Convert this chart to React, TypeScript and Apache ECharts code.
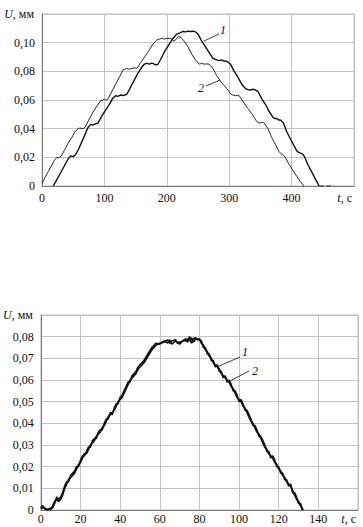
import React, { useEffect, useRef } from "react";
import * as echarts from "echarts";

// Top chart
const topCurve1: [number, number][] = [
  [18,0],[22,0.003],[27,0.007],[32,0.011],[37,0.015],[42,0.019],[46,0.021],[50,0.0205],[54,0.022],[59,0.026],
  [64,0.031],[69,0.036],[74,0.041],[78,0.043],[81,0.0425],[84,0.043],[87,0.0435],[90,0.044],[96,0.049],[102,0.053],[108,0.057],[113,0.061],
  [118,0.063],[121,0.0625],[124,0.063],[127,0.0635],[130,0.063],[136,0.064],[142,0.069],[148,0.074],[154,0.079],[160,0.083],[164,0.085],[168,0.0855],[172,0.085],
  [176,0.0858],[180,0.085],[183,0.0845],[186,0.085],[192,0.090],[198,0.095],[204,0.099],[210,0.103],[216,0.106],[222,0.107],[226,0.1078],[230,0.1075],[234,0.108],[238,0.1078],
  [242,0.108],[246,0.1075],[250,0.106],[256,0.101],[262,0.097],[268,0.093],[274,0.089],[280,0.088],[284,0.0875],[288,0.088],[292,0.0872],[296,0.087],[302,0.085],
  [308,0.080],[314,0.076],[320,0.071],[326,0.068],[330,0.0672],[334,0.067],[338,0.0675],[342,0.067],[346,0.066],[352,0.061],[358,0.057],[364,0.052],
  [370,0.048],[373,0.047],[376,0.0472],[379,0.046],[382,0.046],[387,0.044],[392,0.038],[398,0.033],[404,0.028],[409,0.024],[412,0.0235],[414,0.023],[417,0.0225],[420,0.021],
  [426,0.015],[432,0.010],[438,0.005],[444,0]
];
const topCurve1Tail: [number, number][] = [[444,0],[468,0]];
const topCurve2: [number, number][] = [
  [0,0.002],[5,0.006],[10,0.010],[15,0.014],[20,0.018],[24,0.020],[26,0.0195],[28,0.020],[31,0.021],[36,0.025],[42,0.030],
  [48,0.034],[53,0.038],[58,0.040],[61,0.0405],[64,0.040],[67,0.0403],[69,0.041],[75,0.046],[81,0.051],[87,0.055],[93,0.059],[97,0.060],
  [100,0.0605],[102,0.060],[104,0.0603],[106,0.061],[112,0.066],[118,0.071],[124,0.076],[130,0.081],[136,0.082],[140,0.0815],[144,0.082],[148,0.0825],[152,0.082],[158,0.086],
  [166,0.091],[172,0.095],[178,0.099],[184,0.102],[188,0.1025],[192,0.103],[196,0.1025],[200,0.103],[206,0.103],[212,0.101],[218,0.104],[222,0.104],
  [228,0.101],[234,0.097],[240,0.092],[246,0.088],[252,0.085],[256,0.0855],[260,0.085],[264,0.0852],[268,0.085],[274,0.082],[280,0.077],[288,0.072],
  [296,0.068],[303,0.064],[306,0.0635],[310,0.063],[313,0.0633],[316,0.063],[322,0.059],[330,0.054],[337,0.050],[344,0.045],[347,0.0443],[350,0.044],[353,0.0445],[356,0.044],
  [362,0.040],[368,0.034],[374,0.029],[380,0.024],[383,0.0225],[386,0.022],[390,0.020],[396,0.015],[402,0.011],[408,0.007],[414,0.003],
  [420,0]
];

// Bottom chart
const botCurve1: [number, number][] = [
  [0,0.001],[1,0.002],[2,0.0005],[3,0.0003],[4,0.0004],[5,0.0002],[6,0.002],[7,0.004],[8,0.005],[9,0.004],
  [10,0.005],[11,0.007],[12,0.010],[13,0.012],[14,0.014],[15,0.015],[16,0.016],[17,0.017],[18,0.019],[19,0.021],
  [20,0.022],[21,0.024],[22,0.026],[23,0.026],[24,0.028],[25,0.030],[26,0.031],[27,0.032],[28,0.034],[29,0.035],
  [30,0.036],[31,0.038],[32,0.039],[33,0.041],[34,0.043],[35,0.044],[36,0.045],[37,0.046],[38,0.048],[39,0.050],
  [40,0.051],[41,0.052],[42,0.054],[43,0.056],[44,0.058],[45,0.060],[46,0.061],[47,0.062],[48,0.063],[49,0.065],
  [50,0.066],[52,0.068],[54,0.071],[56,0.074],[58,0.076],[60,0.077],[62,0.0775],[64,0.0785],[65,0.077],[66,0.078],
  [68,0.0785],[69,0.077],[70,0.0775],[72,0.078],[73,0.079],[74,0.0775],[75,0.080],[76,0.077],[77,0.079],[78,0.0795],
  [79,0.0785],[80,0.079],[81,0.077],[82,0.076],[83,0.074],[84,0.073],[85,0.071],[86,0.070],[87,0.068],[88,0.067],
  [89,0.066],[90,0.065],[91,0.063],[92,0.062],[93,0.061],[94,0.060],[95,0.059],[96,0.057],[97,0.056],[98,0.054],
  [99,0.052],[100,0.051],[101,0.050],[102,0.048],[103,0.047],[104,0.045],[105,0.043],[106,0.041],[107,0.040],[108,0.038],
  [109,0.036],[110,0.035],[111,0.033],[112,0.031],[113,0.029],[114,0.028],[115,0.026],[116,0.025],[117,0.024],[118,0.022],
  [119,0.021],[120,0.019],[121,0.018],[122,0.016],[123,0.015],[124,0.013],[125,0.012],[126,0.011],[127,0.009],[128,0.007],
  [129,0.005],[130,0.004],[131,0.002],[132,0]
];
const botCurve2: [number, number][] = [
  [0,0.0005],[1,0.001],[2,0.001],[3,0],[4,0.0005],[5,0.001],[6,0.001],[7,0.003],[8,0.006],[9,0.005],
  [10,0.006],[11,0.008],[12,0.011],[13,0.013],[14,0.013],[15,0.016],[16,0.017],[17,0.018],[18,0.020],[19,0.020],
  [20,0.023],[21,0.025],[22,0.025],[23,0.027],[24,0.029],[25,0.029],[26,0.032],[27,0.033],[28,0.033],[29,0.036],
  [30,0.037],[31,0.037],[32,0.040],[33,0.042],[34,0.042],[35,0.045],[36,0.044],[37,0.047],[38,0.049],[39,0.049],
  [40,0.052],[41,0.053],[42,0.055],[43,0.057],[44,0.059],[45,0.059],[46,0.062],[47,0.063],[48,0.064],[49,0.066],
  [50,0.067],[52,0.069],[54,0.072],[56,0.075],[58,0.077],[60,0.0765],[62,0.078],[64,0.077],[65,0.0785],[66,0.0765],
  [68,0.078],[69,0.0775],[70,0.0765],[72,0.0785],[73,0.078],[74,0.079],[75,0.078],[76,0.0795],[77,0.0775],[78,0.079],
  [79,0.079],[80,0.0785],[81,0.078],[82,0.075],[83,0.075],[84,0.072],[85,0.072],[86,0.069],[87,0.069],[88,0.066],
  [89,0.067],[90,0.064],[91,0.064],[92,0.061],[93,0.062],[94,0.059],[95,0.060],[96,0.058],[97,0.055],[98,0.055],
  [99,0.053],[100,0.050],[101,0.051],[102,0.049],[103,0.046],[104,0.046],[105,0.044],[106,0.042],[107,0.039],[108,0.039],
  [109,0.037],[110,0.034],[111,0.034],[112,0.032],[113,0.030],[114,0.027],[115,0.027],[116,0.024],[117,0.025],[118,0.023],
  [119,0.020],[120,0.020],[121,0.017],[122,0.017],[123,0.014],[124,0.014],[125,0.011],[126,0.012],[127,0.008],[128,0.008],
  [129,0.006],[130,0.003],[131,0.003],[132,0.0005],[132.5,0]
];

const topXTicks = { min: 0, max: 500, interval: 100 };
const topYTicks = { min: 0, max: 0.12, interval: 0.02 };
const botXTicks = { min: 0, max: 160, interval: 20 };
const botYTicks = { min: 0, max: 0.09, interval: 0.01 };

const FONT = "Liberation Serif";

export default function App() {
  const ref = useRef<HTMLDivElement>(null);
  useEffect(() => {
    if (!ref.current) return;
    const chart = echarts.init(ref.current, undefined, { renderer: "svg" });
    const fmtY = (v: number) => (v === 0 ? "0" : v.toFixed(2).replace(".", ","));
    const axisCommon = {
      axisLine: { show: true, lineStyle: { color: "#7a7a7a", width: 1 } },
      axisTick: { show: false },
      splitLine: { show: true, lineStyle: { color: "#c4c4c4", width: 1 } },
    };
    const labelStyle = { color: "#111", fontFamily: FONT, fontSize: 12 };
    const nameRich = {
      i: { fontFamily: FONT, fontSize: 12, fontStyle: "italic" as const, color: "#111" },
      n: { fontFamily: FONT, fontSize: 12, color: "#111" },
    };
    const xAxis = (gi: number, t: { min: number; max: number; interval: number }) => ({
      type: "value" as const,
      gridIndex: gi,
      ...t,
      ...axisCommon,
      axisLabel: { ...labelStyle, margin: gi === 0 ? 6 : 3, showMaxLabel: false },
      name: "{i|t}{n|, с}",
      nameLocation: "end" as const,
      nameGap: 0,
      nameTextStyle: { align: "right", verticalAlign: "top", padding: [gi === 0 ? 6 : 3, 2, 0, 0], rich: nameRich },
    });
    const yAxis = (gi: number, t: { min: number; max: number; interval: number }) => ({
      type: "value" as const,
      gridIndex: gi,
      ...t,
      ...axisCommon,
      axisLabel: { ...labelStyle, margin: 7, showMaxLabel: false, formatter: fmtY },
      name: "{i|U}{n|, мм}",
      nameLocation: "end" as const,
      nameGap: 0,
      nameTextStyle: { align: "right", verticalAlign: "middle", padding: [0, 8, 0, 0], rich: nameRich },
    });
    const lineSeries = (xi: number, data: [number, number][], width: number, type: "solid" | "dashed" = "solid") => ({
      type: "line" as const,
      xAxisIndex: xi,
      yAxisIndex: xi,
      data,
      showSymbol: false,
      symbol: "none",
      lineStyle: { color: "#111", width, type },
      z: 3,
    });
    const txt = (x: number, y: number, s: string) => ({
      type: "text" as const,
      x,
      y,
      style: { text: s, font: `italic 12px ${FONT}`, fill: "#111", textAlign: "center", textVerticalAlign: "middle" },
      z: 10,
    });
    const ln = (x1: number, y1: number, x2: number, y2: number) => ({
      type: "line" as const,
      shape: { x1, y1, x2, y2 },
      style: { stroke: "#111", lineWidth: 0.8 },
      z: 10,
    });
    chart.setOption({
      animation: false,
      backgroundColor: "#fff",
      textStyle: { fontFamily: FONT },
      grid: [
        { left: 42, top: 14, width: 312, height: 172, show: true, borderColor: "#bdbdbd", borderWidth: 1 },
        { left: 38, top: 315, width: 320, height: 195, show: true, borderColor: "#bdbdbd", borderWidth: 1 },
      ],
      xAxis: [xAxis(0, topXTicks), xAxis(1, botXTicks)],
      yAxis: [yAxis(0, topYTicks), yAxis(1, botYTicks)],
      series: [
        lineSeries(0, topCurve1, 1.4),
        lineSeries(0, topCurve1Tail, 1.2, "dashed"),
        lineSeries(0, topCurve2, 0.9),
        lineSeries(1, botCurve1, 1.8),
        lineSeries(1, botCurve2, 1.6),
      ],
      graphic: [
        ln(204, 41, 219, 34),
        txt(223, 30, "1"),
        ln(206, 86, 220, 80),
        txt(201, 88, "2"),
        ln(217, 367, 240, 357),
        txt(245, 352, "1"),
        ln(230, 381, 249, 371),
        txt(255, 371, "2"),
      ],
    });
    return () => chart.dispose();
  }, []);
  return (
    <div
      ref={ref}
      style={{ position: "absolute", left: 0, top: 0, width: 363, height: 527, background: "#fff" }}
    />
  );
}
